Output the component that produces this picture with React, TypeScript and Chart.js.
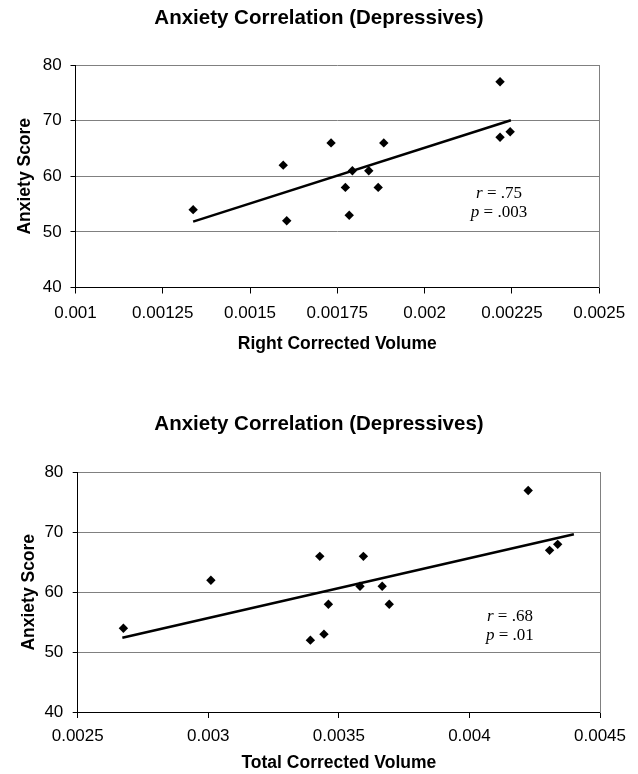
import React, { useEffect, useRef } from 'react';
import { Chart, registerables } from 'chart.js';

Chart.register(...registerables);

// ---------- data ----------
const chartTitle = 'Anxiety Correlation (Depressives)';
const yAxisTitle = 'Anxiety Score';
const xAxisTitleTop = 'Right Corrected Volume';
const xAxisTitleBottom = 'Total Corrected Volume';

const rightVolume = [0.001337, 0.001605, 0.001595, 0.001732, 0.001773, 0.001784, 0.001793, 0.00184, 0.001867, 0.001883, 0.002216, 0.002216, 0.002245];
const anxietyRight = [54, 52, 62, 66, 58, 53, 61, 61, 58, 66, 77, 67, 68];

const totalVolume = [0.002675, 0.00301, 0.003391, 0.003427, 0.003443, 0.00346, 0.003581, 0.003594, 0.003666, 0.003693, 0.004225, 0.004307, 0.004338];
const anxietyTotal = [54, 62, 52, 66, 53, 58, 61, 66, 61, 58, 77, 67, 68];

const trendRightX = [0.001337, 0.002247];
const trendRightY = [51.85, 70.06];
const trendTotalX = [0.002671, 0.0044];
const trendTotalY = [52.4, 69.7];

const xTicksRight = [0.001, 0.00125, 0.0015, 0.00175, 0.002, 0.00225, 0.0025];
const xTicksTotal = [0.0025, 0.003, 0.0035, 0.004, 0.0045];
const yTicks = [40, 50, 60, 70, 80];

const statSymbols = ['r', 'p'];
const statsRight = ['.75', '.003'];
const statsTotal = ['.68', '.01'];

// ---------- helpers ----------
const SANS = '"Liberation Sans", Arial, Helvetica, sans-serif';
const SERIF = '"Liberation Serif", "Times New Roman", serif';

const statsPlugin = {
  id: 'statsText',
  afterDatasetsDraw(chart: any, _args: any, opts: any) {
    const { ctx, scales } = chart;
    const xs = scales.x;
    const ys = scales.y;
    const cx = xs.getPixelForValue(opts.x);
    opts.symbols.forEach((sym: string, i: number) => {
      const py = ys.getPixelForValue(opts.y[i]);
      const italic = `italic ${opts.size}px ${SERIF}`;
      const normal = `${opts.size}px ${SERIF}`;
      const rest = ' = ' + opts.values[i];
      ctx.save();
      ctx.fillStyle = '#000';
      ctx.textBaseline = 'middle';
      ctx.textAlign = 'left';
      ctx.font = italic;
      const w1 = ctx.measureText(sym).width;
      ctx.font = normal;
      const w2 = ctx.measureText(rest).width;
      const start = cx - (w1 + w2) / 2;
      ctx.font = italic;
      ctx.fillText(sym, start, py);
      ctx.font = normal;
      ctx.fillText(rest, start + w1, py);
      ctx.restore();
    });
  },
};

type Cfg = {
  xs: number[];
  ys: number[];
  tx: number[];
  ty: number[];
  xTicks: number[];
  xTitle: string;
  stats: string[];
  statX: number;
  statY: number[];
  layout: {
    right: number;
    titleTop: number;
    titleBottom: number;
    xHeight: number;
    xTitleBottom: number;
    xTickPad: number;
    yWidth: number;
    yTitleTop: number;
    yTickPad: number;
  };
};

function buildConfig(c: Cfg): any {
  const L = c.layout;
  return {
    type: 'scatter',
    data: {
      datasets: [
        {
          label: 'trend',
          data: c.tx.map((x, i) => ({ x, y: c.ty[i] })),
          showLine: true,
          borderColor: '#000',
          borderWidth: 2.5,
          pointRadius: 0,
          pointHoverRadius: 0,
          fill: false,
        },
        {
          label: 'points',
          data: c.xs.map((x, i) => ({ x, y: c.ys[i] })),
          pointStyle: 'rectRot',
          pointRadius: 4.7,
          pointBackgroundColor: '#000',
          pointBorderColor: '#000',
          pointBorderWidth: 0,
          showLine: false,
        },
      ],
    },
    options: {
      animation: false,
      responsive: true,
      maintainAspectRatio: false,
      events: [],
      layout: { padding: { left: 0, right: 0, top: 0, bottom: 0 } },
      plugins: {
        legend: { display: false },
        tooltip: { enabled: false },
        title: {
          display: true,
          text: chartTitle,
          color: '#000',
          font: { family: SANS, size: 20.5, weight: 'bold', lineHeight: 1.2 },
          padding: { top: L.titleTop, bottom: L.titleBottom },
        },
        statsText: {
          x: c.statX,
          y: c.statY,
          symbols: statSymbols,
          values: c.stats,
          size: 17,
        },
      },
      scales: {
        x: {
          type: 'linear',
          position: 'bottom',
          min: c.xTicks[0],
          max: c.xTicks[c.xTicks.length - 1],
          afterBuildTicks: (s: any) => {
            s.ticks = c.xTicks.map((v) => ({ value: v }));
          },
          afterFit: (s: any) => {
            s.height = L.xHeight;
          },
          ticks: {
            autoSkip: false,
            maxRotation: 0,
            minRotation: 0,
            padding: L.xTickPad,
            color: '#000',
            font: { family: SANS, size: 17 },
            callback: (v: any) => String(v),
          },
          grid: {
            display: true,
            drawOnChartArea: false,
            drawTicks: true,
            tickLength: 6,
            color: '#000',
          },
          border: { display: true, color: '#000', width: 1 },
          title: {
            display: true,
            text: c.xTitle,
            color: '#000',
            font: { family: SANS, size: 17.5, weight: 'bold', lineHeight: 1.2 },
            padding: { top: 0, bottom: L.xTitleBottom },
          },
        },
        y: {
          type: 'linear',
          position: 'left',
          min: yTicks[0],
          max: yTicks[yTicks.length - 1],
          afterBuildTicks: (s: any) => {
            s.ticks = yTicks.map((v) => ({ value: v }));
          },
          afterFit: (s: any) => {
            s.width = L.yWidth;
          },
          ticks: {
            padding: L.yTickPad,
            color: '#000',
            font: { family: SANS, size: 17 },
            callback: (v: any) => String(v),
          },
          grid: {
            display: true,
            drawOnChartArea: true,
            drawTicks: true,
            tickLength: 5,
            color: '#808080',
            tickColor: '#000',
            lineWidth: 1,
          },
          border: { display: true, color: '#000', width: 1 },
          title: {
            display: true,
            text: yAxisTitle,
            color: '#000',
            font: { family: SANS, size: 17.5, weight: 'bold', lineHeight: 1.2 },
            padding: { top: L.yTitleTop, bottom: 0 },
          },
        },
        yRight: {
          type: 'linear',
          position: 'right',
          min: yTicks[0],
          max: yTicks[yTicks.length - 1],
          afterFit: (s: any) => {
            s.width = L.right;
          },
          ticks: { display: false },
          grid: { display: false },
          border: { display: true, color: '#808080', width: 1 },
        },
      },
    },
    plugins: [statsPlugin],
  };
}

function ChartBox({ cfg, top }: { cfg: Cfg; top: number }) {
  const ref = useRef<HTMLCanvasElement | null>(null);
  useEffect(() => {
    if (!ref.current) return;
    const chart = new Chart(ref.current, buildConfig(cfg));
    return () => chart.destroy();
  }, []);
  return (
    <div style={{ position: 'absolute', left: 0, top, width: 638, height: 387 }}>
      <canvas ref={ref} style={{ display: 'block' }} />
    </div>
  );
}

const topCfg: Cfg = {
  xs: rightVolume,
  ys: anxietyRight,
  tx: trendRightX,
  ty: trendRightY,
  xTicks: xTicksRight,
  xTitle: xAxisTitleTop,
  stats: statsRight,
  statX: 0.002213,
  statY: [56.93, 53.4],
  layout: {
    right: 38.8,
    titleTop: 6.3,
    titleBottom: 34.1,
    xHeight: 99.5,
    xTitleBottom: 32.5,
    xTickPad: 9.5,
    yWidth: 75.5,
    yTitleTop: 14.2,
    yTickPad: 8.8,
  },
};

const bottomCfg: Cfg = {
  xs: totalVolume,
  ys: anxietyTotal,
  tx: trendTotalX,
  ty: trendTotalY,
  xTicks: xTicksTotal,
  xTitle: xAxisTitleBottom,
  stats: statsTotal,
  statX: 0.004155,
  statY: [55.93, 52.7],
  layout: {
    right: 38,
    titleTop: 24.9,
    titleBottom: 36.0,
    xHeight: 62,
    xTitleBottom: 0.5,
    xTickPad: 7.8,
    yWidth: 77.7,
    yTitleTop: 18.3,
    yTickPad: 9.4,
  },
};

export default function App() {
  return (
    <div style={{ position: 'absolute', left: 0, top: 0, width: 638, height: 774, background: '#fff' }}>
      <ChartBox cfg={topCfg} top={0} />
      <ChartBox cfg={bottomCfg} top={387} />
    </div>
  );
}
